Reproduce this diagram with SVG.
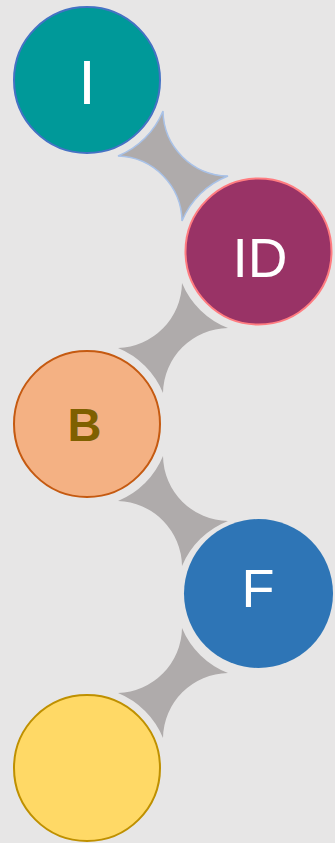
<svg xmlns="http://www.w3.org/2000/svg" width="335" height="843" viewBox="0 0 335 843">
  <defs>
    <style>
      .bg { fill: #e7e6e6; }
      .star { fill: #afabab; stroke: none; }
      .star1 { fill: #afabab; stroke: #a9c2e8; stroke-width: 1.5; }
      .lbl { font-family: "Liberation Sans", Arial, sans-serif; text-anchor: middle; }
    </style>
    <path id="starShape" d="M163,111 A82,82 0 0 1 118,156 A66,66 0 0 1 182,221 A82,82 0 0 1 228,176 A66,66 0 0 1 163,111 Z"/>
  </defs>
  <rect class="bg" x="0" y="0" width="335" height="843"/>
  <g id="connectors">
    <use href="#starShape" class="star1"/>
    <use href="#starShape" class="star" transform="matrix(1,0,0,-1,0,504)"/>
    <use href="#starShape" class="star" transform="translate(0,345)"/>
    <use href="#starShape" class="star" transform="matrix(1,0,0,-1,0,849)"/>
  </g>
  <g id="node-I">
    <circle cx="87" cy="80" r="73" fill="#009999" stroke="#4472c4" stroke-width="2"/>
    <text class="lbl" x="87" y="104" font-size="63" fill="#ffffff">I</text>
  </g>
  <g id="node-ID">
    <circle cx="258.5" cy="251.5" r="73" fill="#993366" stroke="#ff7c80" stroke-width="2"/>
    <text class="lbl" x="260" y="277" font-size="55" fill="#ffffff">ID</text>
  </g>
  <g id="node-B">
    <circle cx="87" cy="424" r="73" fill="#f4b183" stroke="#c55a11" stroke-width="2"/>
    <text class="lbl" x="84.5" y="441" font-size="47" font-weight="bold" fill="#7f6000">B</text>
  </g>
  <g id="node-F">
    <circle cx="258.5" cy="593.5" r="74.5" fill="#2e75b6"/>
    <text class="lbl" x="258" y="607" font-size="54" fill="#ffffff">F</text>
  </g>
  <g id="node-5">
    <circle cx="87" cy="768" r="73" fill="#ffd966" stroke="#bf9000" stroke-width="2"/>
  </g>
</svg>
